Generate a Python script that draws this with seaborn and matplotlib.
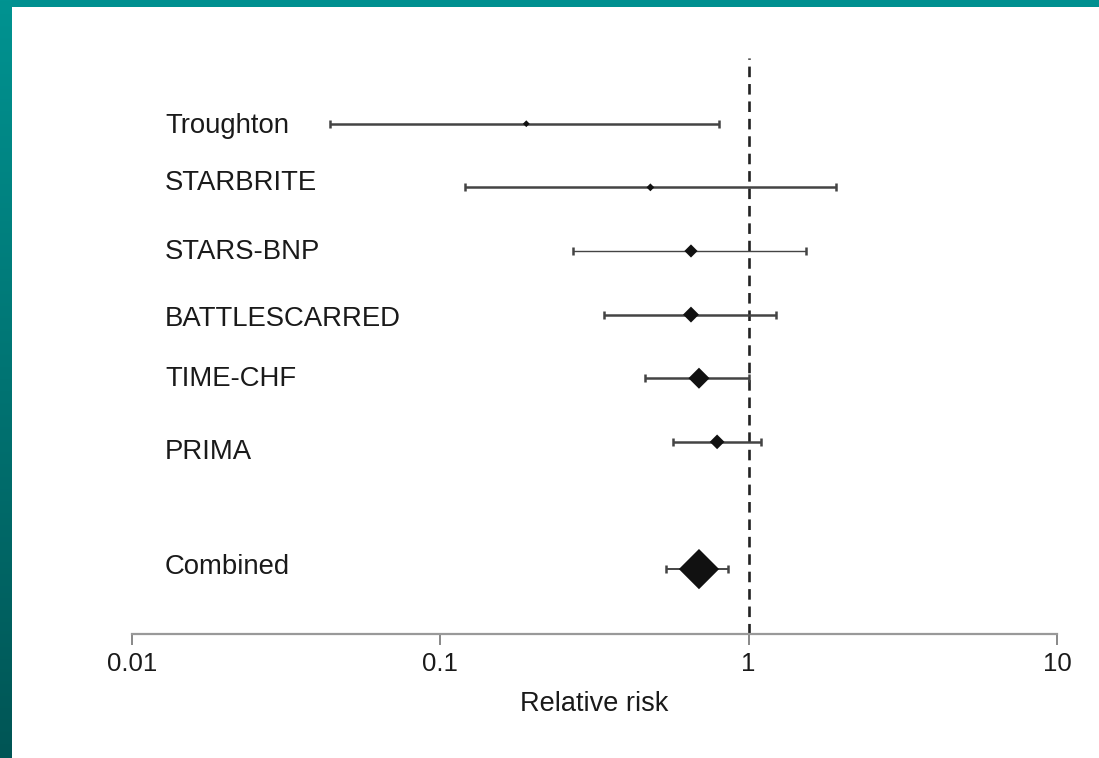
import numpy as np
import pandas as pd
import matplotlib
matplotlib.use("Agg")
import matplotlib.pyplot as plt
import seaborn as sns

# ---- data ----
studies = ["Troughton", "STARBRITE", "STARS-BNP", "BATTLESCARRED", "TIME-CHF", "PRIMA", "Combined"]
row = [0, 1, 2, 3, 4, 5, 7]
rr = [0.19, 0.48, 0.65, 0.65, 0.69, 0.79, 0.69]
ci_low = [0.044, 0.12, 0.27, 0.34, 0.46, 0.57, 0.54]
ci_high = [0.80, 1.92, 1.53, 1.23, 1.00, 1.10, 0.86]
weight = [12, 16, 45, 66, 115, 56, 420]   # relative study weight (marker area)
xticks = [0.01, 0.1, 1, 10]
xticklabels = ["0.01", "0.1", "1", "10"]

df = pd.DataFrame({"study": studies, "row": row, "rr": rr,
                   "lo": ci_low, "hi": ci_high, "w": weight})

sns.set_theme(style="white")
plt.rcParams["font.family"] = ["Liberation Sans", "DejaVu Sans"]

W, H = 1099, 758
fig = plt.figure(figsize=(W / 100, H / 100), dpi=100, facecolor="white")

# teal frame (top strip and left gradient strip)
top = fig.add_axes([0, 1 - 7 / H, 1, 7 / H])
top.set_facecolor("#009090")
top.set_xticks([]); top.set_yticks([])
for s in top.spines.values():
    s.set_visible(False)
left = fig.add_axes([0, 0, 12 / W, 1])
grad = np.linspace(0, 1, 256).reshape(-1, 1)
c0 = np.array([0x00, 0x93, 0x91]) / 255
c1 = np.array([0x00, 0x55, 0x55]) / 255
img = c0[None, None, :] * (1 - grad[:, :, None]) + c1[None, None, :] * grad[:, :, None]
left.imshow(img, aspect="auto", extent=[0, 1, 0, 1])
left.set_axis_off()

ax = fig.add_axes([132 / W, (H - 634) / H, (1057 - 132) / W, (634 - 55) / H])
ax.set_facecolor("white")
ax.set_xscale("log")
ax.set_xlim(0.01, 10)
ax.set_ylim(8.02, -1.08)

# reference line
ax.axvline(1, ymin=0, ymax=0.995, color="#222222", lw=1.9,
           dashes=(4.0, 2.6), zorder=1)

# confidence intervals
lws = [1.8, 1.8, 1.0, 1.8, 1.8, 1.8, 1.4]
for i, r in df.iterrows():
    ax.errorbar([r.rr], [r.row],
                xerr=[[r.rr - r.lo], [r.hi - r.rr]],
                fmt="none", ecolor="#444444", elinewidth=lws[i],
                capsize=3.2, capthick=1.8, zorder=2)

# point estimates
sns.scatterplot(data=df, x="rr", y="row", size="w", sizes=(min(weight), max(weight)),
                marker="D", color="#111111", edgecolor="#111111", linewidth=0,
                legend=False, ax=ax, zorder=3)

# study labels
label_dy = [0.03, -0.07, 0.02, 0.07, 0.02, 0.16, -0.03]
for name, y, dy in zip(studies, row, label_dy):
    ax.text(0.0357, y + dy, name, transform=ax.get_yaxis_transform(),
            ha="left", va="center", fontsize=19.8, color="#1a1a1a")

ax.set_xticks(xticks)
ax.set_xticklabels(xticklabels)
ax.minorticks_off()
ax.xaxis.set_minor_locator(matplotlib.ticker.NullLocator())
ax.tick_params(axis="x", direction="out", length=8, width=1.4, color="#888888",
               labelsize=18.5, labelcolor="#1a1a1a", pad=5, bottom=True)
ax.set_yticks([])
ax.set_ylabel("")
ax.set_xlabel("Relative risk", fontsize=19.5, color="#1a1a1a", labelpad=11)
for side in ["top", "right", "left"]:
    ax.spines[side].set_visible(False)
ax.spines["bottom"].set_color("#999999")
ax.spines["bottom"].set_linewidth(1.6)

fig.savefig("out.png", dpi=100, facecolor="white")
